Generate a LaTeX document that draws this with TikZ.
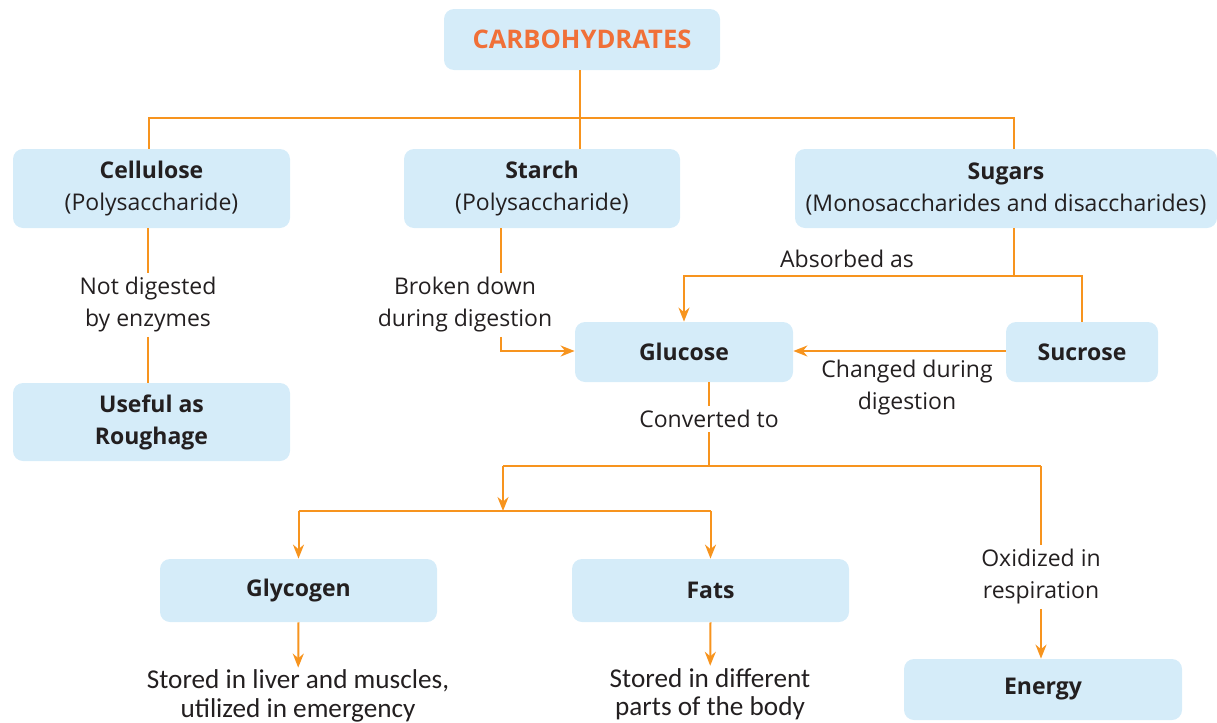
\documentclass[tikz,border=0pt]{standalone}
\usepackage{fontspec}
\setmainfont{Open Sans}
\newfontfamily\capfont{Carlito}
\usepackage{xcolor}
\usetikzlibrary{positioning, arrows.meta}

\definecolor{boxblue}{RGB}{213,236,249}
\definecolor{lineorange}{RGB}{247,148,30}
\definecolor{titleorange}{RGB}{240,112,56}
\definecolor{textdark}{RGB}{35,31,32}

\begin{document}
\begin{tikzpicture}[
        x=0.5pt, y=-0.5pt,
        box/.style={rounded corners=5pt, fill=boxblue, align=center, inner sep=0pt, text=textdark, font=\fontsize{11.5}{16}\selectfont},
        note/.style={align=center, inner sep=2pt, text=textdark, font=\fontsize{11.5}{16}\selectfont},
        capnote/.style={align=center, inner sep=1pt, text=textdark, font=\capfont\fontsize{13.6}{14.2}\selectfont},
        link/.style={line width=1pt, lineorange},
        arr/.style={link, -{Stealth[length=7pt, width=5.5pt]}},
    ]
    \useasboundingbox (0,0) rectangle (1217,723);
    % BOXES
    \node[box, minimum width=138pt, minimum height=30.5pt, text=titleorange, font=\fontsize{12.8}{16}\selectfont] (carb) at (582,39.5) {\textbf{CARBOHYDRATES}};
    \node[box, minimum width=138.5pt, minimum height=39.5pt] (cell) at (151.5,188.5) {\textbf{Cellulose}\\(Polysaccharide)};
    \node[box, minimum width=138pt, minimum height=39.5pt] (sta) at (542,188.5) {\textbf{Starch}\\(Polysaccharide)};
    \node[box, minimum width=211pt, minimum height=39.5pt] (sug) at (1006,188.5) {\textbf{Sugars}\\(Monosaccharides and disaccharides)};
    \node[box, minimum width=138.5pt, minimum height=39pt] (rough) at (151.5,422) {\textbf{Useful as}\\\textbf{Roughage}};
    \node[box, minimum width=109pt, minimum height=30pt] (glu) at (684,352) {\textbf{Glucose}};
    \node[box, minimum width=76pt, minimum height=30pt] (suc) at (1082,352) {\textbf{Sucrose}};
    \node[box, minimum width=138.5pt, minimum height=31.5pt] (gly) at (298.5,590.5) {\textbf{Glycogen}};
    \node[box, minimum width=138.5pt, minimum height=31.5pt] (fat) at (710.5,590.5) {\textbf{Fats}};
    \node[box, minimum width=139pt, minimum height=30.5pt] (ene) at (1043,689.5) {\textbf{Energy}};
    % NOTES
    \node[note] (notdig) at (148,305) {Not digested\\by enzymes};
    \node[note] (brk) at (465,305) {Broken down\\during digestion};
    \node[note] (abs) at (847,259) {Absorbed as};
    \node[note] (chg) at (907,388) {Changed during\\digestion};
    \node[note] (conv) at (709,419) {Converted to};
    \node[note] (oxi) at (1041,577) {Oxidized in\\respiration};
    \node[capnote] (sto1) at (298,696) {Stored in liver and muscles,\\utilized in emergency};
    \node[capnote] (sto2) at (710,694) {Stored in different\\parts of the body};
    % JOINTS
    \coordinate (cj) at (580,118);
    \coordinate (cl) at (149,118);
    \coordinate (cr) at (1014,118);
    \coordinate (sj) at (1014,276);
    \coordinate (sb) at (501,351);
    \coordinate (gj) at (709,466);
    \coordinate (lj) at (503,466);
    \coordinate (ej) at (1041,466);
    \coordinate (mj) at (503,511);
    % TOP TREE
    \draw[link] (carb.south -| cj) -- (cj);
    \draw[link] (cell.north -| cl) -- (cl) -- (cr) -- (sug.north -| cr);
    \draw[link] (cj) -- (sta.north -| cj);
    % LEFT BRANCHES
    \draw[link] (cell.south -| notdig) -- (notdig);
    \draw[link] (notdig) -- (rough.north -| notdig);
    \draw[link] (sta.south -| sb) -- (brk.north -| sb);
    \draw[arr] (brk.south -| sb) -- (sb) -- (glu.west |- sb);
    % SUGARS
    \draw[link] (sug.south -| sj) -- (sj);
    \draw[arr] (sj) -| (glu.north);
    \draw[link] (sj) -| (suc.north);
    \draw[arr] (suc.west |- sb) -- (glu.east |- sb);
    % GLUCOSE
    \draw[link] (glu.south -| gj) -- (conv);
    \draw[link] (conv) -- (gj);
    \draw[link] (lj) -- (ej);
    \draw[arr] (lj) -- (mj);
    \draw[link] (gly.north |- mj) -- (fat.north |- mj);
    \foreach \n in {gly, fat}
        \draw[arr] (\n.north |- mj) -- (\n.north);
    \draw[link] (ej) -- (oxi);
    \draw[arr] (oxi) -- (ene.north -| oxi);
    \draw[arr] (gly.south) -- (sto1);
    \draw[arr] (fat.south) -- (sto2);
\end{tikzpicture}
\end{document}
